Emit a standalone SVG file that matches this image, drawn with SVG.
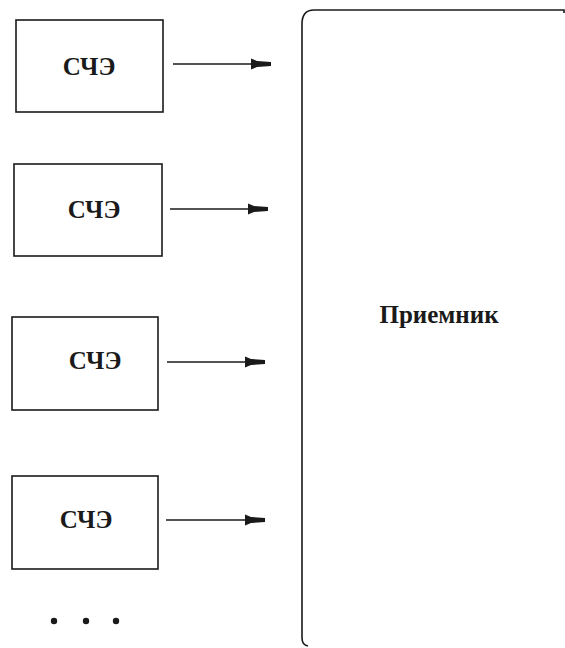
<svg xmlns="http://www.w3.org/2000/svg" width="565" height="648" viewBox="0 0 565 648">
  <style>
    .box { fill: #fff; stroke: #1a1a1a; stroke-width: 1.6; }
    .lbl { font-family: "Liberation Serif", "Times New Roman", serif; font-weight: bold; font-size: 25px; fill: #1a1a1a; text-anchor: middle; }
    .conn { stroke: #1a1a1a; stroke-width: 1.5; fill: none; marker-end: url(#arr); }
    .dot { fill: #1a1a1a; }
  </style>
  <defs>
    <marker id="arr" markerUnits="userSpaceOnUse" markerWidth="24" markerHeight="14" viewBox="-20 -7 24 14" refX="0" refY="0" orient="auto" overflow="visible">
      <path d="M-20,-5.5 L-14,-3 L0,-2 L0,2 L-14,3 L-20,5.5 Z" fill="#1a1a1a"/>
    </marker>
  </defs>
  <rect width="565" height="648" fill="#fff"/>
  <g id="node-1">
    <rect class="box" x="16" y="20" width="147" height="92"/>
    <text class="lbl" x="89" y="75">СЧЭ</text>
  </g>
  <g id="node-2">
    <rect class="box" x="14" y="164" width="148" height="92"/>
    <text class="lbl" x="94" y="218">СЧЭ</text>
  </g>
  <g id="node-3">
    <rect class="box" x="12" y="317" width="146" height="93"/>
    <text class="lbl" x="95" y="369">СЧЭ</text>
  </g>
  <g id="node-4">
    <rect class="box" x="12" y="476" width="146" height="93"/>
    <text class="lbl" x="86" y="528">СЧЭ</text>
  </g>
  <g id="receiver">
    <path d="M564,13 L564,10 L314,10 Q302,10 302,24 L302,638 Q302,645 308,646" fill="none" stroke="#1a1a1a" stroke-width="1.6"/>
    <text class="lbl" x="439" y="323">Приемник</text>
  </g>
  <g id="ellipsis">
    <circle class="dot" cx="54" cy="621" r="3.2"/>
    <circle class="dot" cx="86" cy="621" r="3.2"/>
    <circle class="dot" cx="116" cy="621" r="3.2"/>
  </g>
  <g id="connectors">
    <line class="conn" x1="173" y1="64" x2="271" y2="64"/>
    <line class="conn" x1="170" y1="209" x2="268" y2="209"/>
    <line class="conn" x1="167" y1="362" x2="265" y2="362"/>
    <line class="conn" x1="166" y1="520" x2="265" y2="520"/>
  </g>
</svg>
